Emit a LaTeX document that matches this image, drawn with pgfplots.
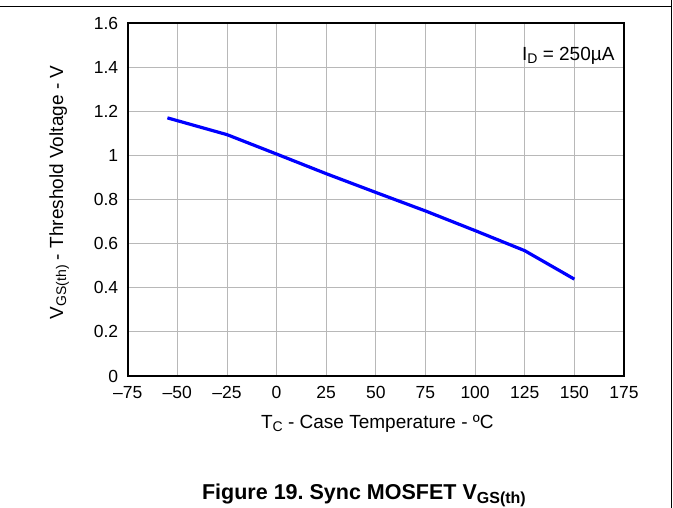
\documentclass[border=0pt]{standalone}
\usepackage{fontspec}
\setmainfont{Liberation Sans}
\usepackage{pgfplots}
\pgfplotsset{compat=1.18}
\frenchspacing

\begin{document}
\begin{tikzpicture}[x=1pt,y=1pt]
  \useasboundingbox (0,0) rectangle (673,508);
  % page frame
  \draw[line width=1pt] (0,501) -- (671.5,501);
  \draw[line width=1.7pt] (671.5,508) -- (671.5,0);

  \begin{axis}[
    at={(127.7pt,132pt)}, anchor=south west,
    width=496.3pt, height=353pt, scale only axis,
    xmin=-75, xmax=175, ymin=0, ymax=1.6,
    xtick={-75,-50,-25,0,25,50,75,100,125,150,175},
    xticklabels={–75,–50,–25,0,25,50,75,100,125,150,175},
    ytick={0,0.2,0.4,0.6,0.8,1,1.2,1.4,1.6},
    yticklabels={0,0.2,0.4,0.6,0.8,1,1.2,1.4,1.6},
    major tick length=0pt,
    tick label style={font=\fontsize{17.5}{20}\selectfont},
    xticklabel style={yshift=-7pt},
    yticklabel style={xshift=-6pt},
    grid=major,
    major grid style={draw=black!28, line width=0.8pt},
    axis line style={line width=1.6pt},
    xlabel={T\raisebox{-3pt}{\fontsize{14}{14}\selectfont C} - Case Temperature - ºC},
    xlabel style={at={(axis description cs:0.503,-0.150)}, anchor=base,
      font=\fontsize{19}{22}\selectfont},
    ylabel={V\raisebox{-3pt}{\fontsize{14}{14}\selectfont GS(th)} - Threshold Voltage - V},
    ylabel style={at={(axis description cs:-0.130,0.520)}, anchor=base,
      font=\fontsize{19}{22}\selectfont},
    title={Figure 19. Sync MOSFET V\raisebox{-4pt}{\fontsize{16}{16}\selectfont GS(th)}},
    title style={at={(axis description cs:0.476,-0.366)}, anchor=base,
      font=\fontsize{21.5}{24}\selectfont\bfseries},
  ]
  \addplot[color=blue, line width=3.2pt] coordinates {
    (-55,1.170) (-25,1.094) (0,1.006) (25,0.917) (50,0.832)
    (75,0.748) (100,0.659) (125,0.568) (150,0.439)
  };
  \node[anchor=base east, font=\fontsize{19}{22}\selectfont]
    at (axis description cs:0.988,0.895)
    {I\raisebox{-3pt}{\fontsize{14}{14}\selectfont D} = 250µA};
  \end{axis}
\end{tikzpicture}
\end{document}
